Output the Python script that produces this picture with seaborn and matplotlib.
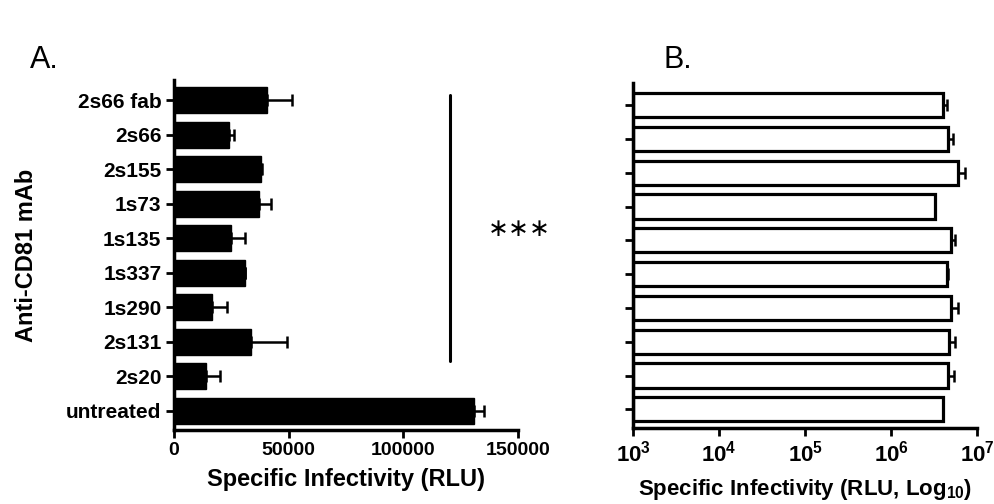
import numpy as np
import pandas as pd
import matplotlib
matplotlib.use("Agg")
import matplotlib.pyplot as plt
import seaborn as sns

# data
mabs = ["2s66 fab", "2s66", "2s155", "1s73", "1s135", "1s337",
        "1s290", "2s131", "2s20", "untreated"]
rlu_linear = [40400, 24000, 37800, 37000, 24800, 30900, 16500, 33500, 13900, 130900]
rlu_linear_err = [11000, 2000, 500, 5200, 6100, 300, 6500, 16000, 6100, 4300]
rlu_log = [4.0e6, 4.6e6, 6.0e6, 3.2e6, 5.0e6, 4.5e6, 5.0e6, 4.7e6, 4.6e6, 4.0e6]
rlu_log_err = [0.5e6, 0.6e6, 1.2e6, 0.0, 0.5e6, 0.1e6, 1.0e6, 0.9e6, 0.8e6, 0.05e6]
x_ticks_a = [0, 50000, 100000, 150000]
x_ticks_b = [1e3, 1e4, 1e5, 1e6, 1e7]
log_base = 1e3

df = pd.DataFrame({"mAb": mabs, "lin": rlu_linear, "lin_err": rlu_linear_err,
                   "log": rlu_log, "log_err": rlu_log_err})

sns.set_theme(style="ticks")
plt.rcParams['font.family'] = ['Liberation Sans', 'DejaVu Sans']
plt.rcParams['mathtext.fontset'] = 'custom'
plt.rcParams['mathtext.rm'] = 'Liberation Sans'
plt.rcParams['mathtext.bf'] = 'Liberation Sans:bold'
for key in ('text.color', 'axes.labelcolor', 'xtick.color', 'ytick.color', 'axes.edgecolor'):
    plt.rcParams[key] = 'black'

fig = plt.figure(figsize=(9.94, 5.04), dpi=100)
ax1 = fig.add_axes([0.175, 0.147, 0.346, 0.694])
ax2 = fig.add_axes([0.637, 0.151, 0.346, 0.684])

pos = np.arange(len(mabs))

# --- panel A: linear ---
sns.barplot(data=df, x="lin", y="mAb", ax=ax1, color="black", width=0.75,
            saturation=1, errorbar=None, edgecolor="black")
ax1.errorbar(df["lin"], pos, xerr=[np.zeros(len(mabs)), df["lin_err"]],
             fmt="none", ecolor="black", elinewidth=1.8, capsize=4, capthick=1.8)
ax1.set_xlim(0, 150000)
ax1.set_ylim(len(mabs) - 0.45, -0.58)
ax1.set_xticks(x_ticks_a)
ax1.set_xticklabels([str(t) for t in x_ticks_a])
ax1.set_xlabel("Specific Infectivity (RLU)", fontsize=17, fontweight="bold", labelpad=6)
ax1.set_ylabel("Anti-CD81 mAb", fontsize=17, fontweight="bold", labelpad=20)

# significance bar
ax1.plot([120600, 120600], [-0.15, 7.55], color="black", lw=2.2)
ax1.text(0.912, 0.575, "\u2217\u2217\u2217", transform=ax1.transAxes, fontsize=18,
         family="DejaVu Sans", color="black", ha="left", va="center")

# --- panel B: log, bars start at the axis floor ---
ax2.set_xscale("log")
ax2.barh(pos, df["log"] - log_base, left=log_base, height=0.72,
         color="white", edgecolor="black", linewidth=2.3)
ax2.errorbar(df["log"], pos, xerr=[np.zeros(len(mabs)), df["log_err"]],
             fmt="none", ecolor="black", elinewidth=1.8, capsize=4, capthick=1.8)
ax2.set_xlim(1e3, 1e7)
ax2.set_ylim(len(mabs) - 0.45, -0.65)
ax2.set_yticks(pos)
ax2.set_xticks(x_ticks_b)
ax2.set_xticklabels([f"$\\mathbf{{10^{{{int(np.log10(t))}}}}}$" for t in x_ticks_b])
ax2.minorticks_off()
ax2.set_yticklabels([])
ax2.set_ylabel("")
ax2.set_xlabel("Specific Infectivity (RLU, Log$_{\\mathbf{10}}$)",
               fontsize=16, fontweight="bold", labelpad=8)

for ax in (ax1, ax2):
    sns.despine(ax=ax)
    for side in ("left", "bottom"):
        ax.spines[side].set_linewidth(2.5)
    ax.tick_params(axis="both", width=2, length=6, direction="out", pad=3)
    for lbl in ax.get_xticklabels():
        lbl.set_fontweight("bold")
        lbl.set_fontsize(14)
    for lbl in ax.get_yticklabels():
        lbl.set_fontweight("bold")
        lbl.set_fontsize(15)

ax2.tick_params(axis="x", labelsize=16)

fig.text(0.03, 0.88, "A.", fontsize=22, ha="left", va="center")
fig.text(0.668, 0.88, "B.", fontsize=22, ha="left", va="center")

fig.savefig("out.png", dpi=100)
